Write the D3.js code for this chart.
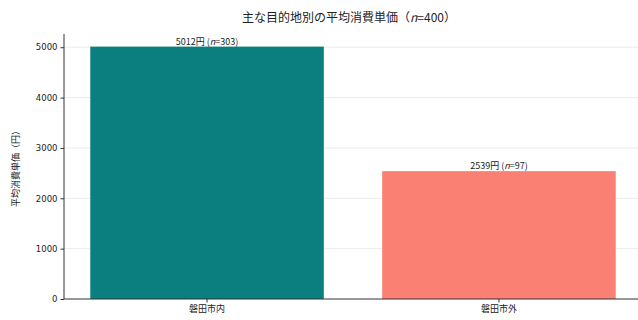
<!DOCTYPE html>
<html>
<head>
<meta charset="utf-8">
<script src="https://cdn.jsdelivr.net/npm/d3@7/dist/d3.min.js"></script>
<style>
  html, body { margin: 0; padding: 0; background: #fff; }
  svg { display: block; font-family: "Noto Sans CJK JP", "Noto Sans", sans-serif; }
</style>
</head>
<body>
<svg id="chart" width="638" height="320"></svg>
<script>
// Average spend per destination group
const categories = ["磐田市内", "磐田市外"];
const values = [5012, 2539];
const counts = [303, 97];
const colors = ["#0b7f7f", "#f98072"];
const yTicks = [0, 1000, 2000, 3000, 4000, 5000];
const totalN = 400;

const svg = d3.select("#chart");
const xLeft = 64, xRight = 642, yTop = 34, yBottom = 299;

// categorical axis: bars of width 0.8 on a -0.49..1.49 range
const x = d3.scaleLinear().domain([-0.49, categories.length - 0.51]).range([xLeft, xRight]);
const center = i => x(i);
const barW = x(0.8) - x(0);

const y = d3.scaleLinear().domain([0, d3.max(values) * 1.05]).range([yBottom, yTop]);

// grid
svg.append("g")
  .selectAll("line")
  .data(yTicks.filter(d => d > 0))
  .join("line")
  .attr("x1", xLeft).attr("x2", xRight)
  .attr("y1", d => y(d)).attr("y2", d => y(d))
  .attr("stroke", "#e6e6e6").attr("stroke-width", 0.8);

// bars
svg.append("g")
  .selectAll("rect")
  .data(values)
  .join("rect")
  .attr("x", (d, i) => center(i) - barW / 2)
  .attr("width", barW)
  .attr("y", d => y(d))
  .attr("height", d => y(0) - y(d))
  .attr("fill", (d, i) => colors[i]);

// value labels
const lbl = svg.append("g")
  .selectAll("text")
  .data(values)
  .join("text")
  .attr("x", (d, i) => center(i))
  .attr("y", d => y(d) - 2)
  .attr("text-anchor", "middle")
  .attr("font-size", 9)
  .attr("fill", "#222");
lbl.append("tspan").text(d => d + "円 (");
lbl.append("tspan").attr("font-style", "italic").text("n");
lbl.append("tspan").text((d, i) => "=" + counts[i] + ")");

// y axis
const yAxis = d3.axisLeft(y).tickValues(yTicks).tickSize(3.5).tickPadding(3).tickFormat(d3.format("d"));
const gy = svg.append("g").attr("transform", `translate(${xLeft},0)`).call(yAxis);
gy.select(".domain").attr("stroke", "#333").attr("d", `M-0,${yTop}V${yBottom}`);
gy.selectAll(".tick line").attr("stroke", "#333");
gy.selectAll(".tick text").attr("font-size", 8.5).attr("fill", "#222")
  .attr("font-family", "'DejaVu Sans', sans-serif");

// x axis
svg.append("line")
  .attr("x1", xLeft).attr("x2", xRight)
  .attr("y1", y(0)).attr("y2", y(0))
  .attr("stroke", "#333");
const gx = svg.append("g")
  .selectAll("g")
  .data(categories)
  .join("g")
  .attr("transform", (d, i) => `translate(${center(i)},${y(0)})`);
gx.append("line").attr("y2", 3.5).attr("stroke", "#333");
gx.append("text")
  .attr("y", 13)
  .attr("text-anchor", "middle")
  .attr("font-size", 9)
  .attr("fill", "#222")
  .text(d => d);

// y axis title
svg.append("text")
  .attr("transform", `translate(19,${(yTop + yBottom) / 2}) rotate(-90)`)
  .attr("text-anchor", "middle")
  .attr("font-size", 9)
  .attr("fill", "#222")
  .text("平均消費単価（円）");

// chart title
const title = svg.append("text")
  .attr("x", (xLeft + xRight) / 2 - 4)
  .attr("y", 22)
  .attr("text-anchor", "middle")
  .attr("font-size", 12)
  .attr("fill", "#222");
title.append("tspan").text("主な目的地別の平均消費単価（");
title.append("tspan").attr("font-style", "italic").text("n");
title.append("tspan").text("=" + totalN + "）");
</script>
</body>
</html>
